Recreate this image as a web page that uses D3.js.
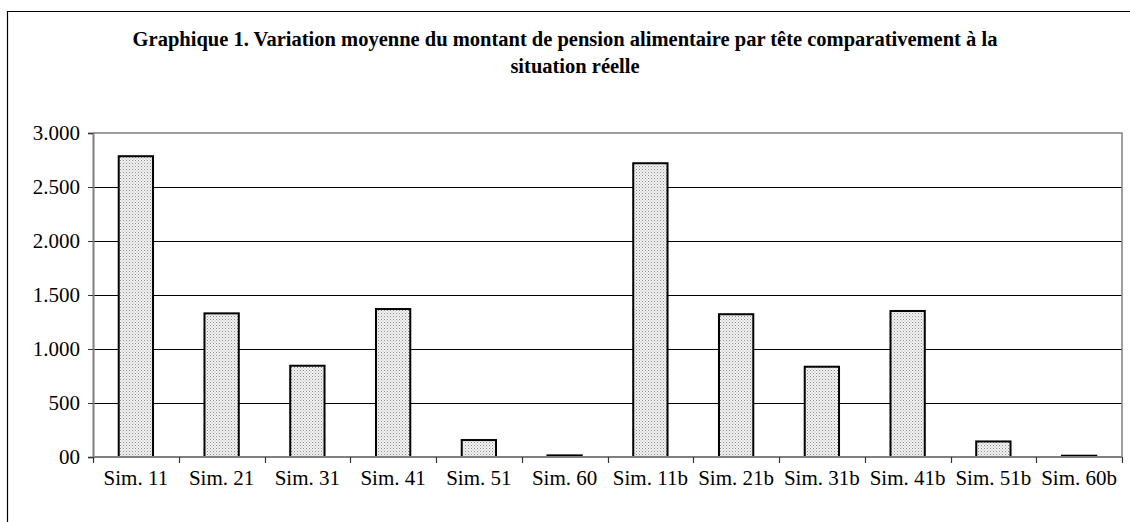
<!DOCTYPE html>
<html>
<head>
<meta charset="utf-8">
<script src="https://cdn.jsdelivr.net/npm/d3@7"></script>
<style>
  body { margin: 0; background: #fff; }
  svg { display: block; font-family: "Liberation Serif", "Times New Roman", serif; }
</style>
</head>
<body>
<script>
let categories = ["Sim. 11", "Sim. 21", "Sim. 31", "Sim. 41", "Sim. 51", "Sim. 60",
    "Sim. 11b", "Sim. 21b", "Sim. 31b", "Sim. 41b", "Sim. 51b", "Sim. 60b"];
let values = [2785, 1330, 845, 1370, 157, 15, 2720, 1322, 836, 1352, 144, 12];
let yTicks = [0, 500, 1000, 1500, 2000, 2500, 3000];
let yTickLabels = ["00", "500", "1.000", "1.500", "2.000", "2.500", "3.000"];
let titleLines = ["Graphique 1. Variation moyenne du montant de pension alimentaire par tête comparativement à la",
    "situation réelle"];

let W = 1130, H = 522;
let margin = { top: 133, right: 8, bottom: 65, left: 93 };
let width = W - margin.left - margin.right;
let height = H - margin.top - margin.bottom;

let svg = d3.select("body").append("svg")
    .attr("width", W)
    .attr("height", H);

// dotted fill like the original
let pat = svg.append("defs").append("pattern")
    .attr("id", "dots")
    .attr("width", 3)
    .attr("height", 3)
    .attr("patternUnits", "userSpaceOnUse");
pat.append("rect").attr("width", 3).attr("height", 3).attr("fill", "#f4f4f4");
pat.append("rect").attr("width", 1).attr("height", 1).attr("fill", "#8a8a8a");
pat.append("rect").attr("x", 1.5).attr("y", 1.5).attr("width", 1).attr("height", 1).attr("fill", "#a8a8a8");

// outer chart frame (only top and left visible)
svg.append("path")
    .attr("d", "M7.5," + (H + 2) + "V11.5H" + (W + 2))
    .attr("fill", "none")
    .attr("stroke", "#000")
    .attr("stroke-width", 1.2);

svg.selectAll(".title")
    .data(titleLines)
    .enter().append("text")
    .attr("x", (d, i) => i === 0 ? 565 : 575)
    .attr("y", (d, i) => 46 + i * 26.5)
    .attr("text-anchor", "middle")
    .style("font-size", "20.5px")
    .style("font-weight", "bold")
    .text(d => d);

let g = svg.append("g")
    .attr("transform", "translate(" + margin.left + "," + margin.top + ")");

let x = d3.scaleBand()
    .domain(categories)
    .range([0, width])
    .paddingInner(0.6)
    .paddingOuter(0.3);

let y = d3.scaleLinear()
    .domain([0, 3000])
    .range([height, 0]);

// gridlines
g.selectAll(".grid")
    .data(yTicks.filter(d => d > 0 && d < 3000))
    .enter().append("line")
    .attr("x1", 0)
    .attr("x2", width)
    .attr("y1", d => Math.round(y(d)) + 0.5)
    .attr("y2", d => Math.round(y(d)) + 0.5)
    .attr("stroke", "#000")
    .attr("stroke-width", 1);

// plot area border
g.append("path")
    .attr("d", "M0,0H" + width + "V" + height)
    .attr("fill", "none")
    .attr("stroke", "#808080")
    .attr("stroke-width", 1.5);

// bars
g.selectAll(".bar")
    .data(values)
    .enter().append("rect")
    .attr("x", (d, i) => x(categories[i]))
    .attr("y", d => y(d))
    .attr("width", x.bandwidth())
    .attr("height", d => height - y(d))
    .attr("fill", "url(#dots)")
    .attr("stroke", "#000")
    .attr("stroke-width", 2);

// y axis
let yAxis = g.append("g")
    .call(d3.axisLeft(y)
        .tickValues(yTicks)
        .tickFormat((d, i) => yTickLabels[i])
        .tickSize(5)
        .tickPadding(8));
yAxis.select(".domain").attr("stroke", "#808080").attr("stroke-width", 2);
yAxis.selectAll("line").attr("stroke", "#333");
yAxis.selectAll("text")
    .style("font-size", "21px")
    .style("font-family", "Liberation Serif")
    .attr("fill", "#000");

// x axis
let step = width / categories.length;
let xAxis = g.append("g")
    .attr("transform", "translate(0," + height + ")");
xAxis.append("line")
    .attr("x1", 0).attr("x2", width)
    .attr("stroke", "#808080")
    .attr("stroke-width", 2);
xAxis.selectAll(".tick")
    .data(d3.range(categories.length + 1))
    .enter().append("line")
    .attr("x1", i => Math.round(i * step) + 0.5)
    .attr("x2", i => Math.round(i * step) + 0.5)
    .attr("y1", 0)
    .attr("y2", 6)
    .attr("stroke", "#333")
    .attr("stroke-width", 1.2);
xAxis.selectAll(".lab")
    .data(categories)
    .enter().append("text")
    .attr("x", d => x(d) + x.bandwidth() / 2)
    .attr("y", 28)
    .attr("text-anchor", "middle")
    .style("font-size", "21px")
    .text(d => d);
</script>
</body>
</html>
